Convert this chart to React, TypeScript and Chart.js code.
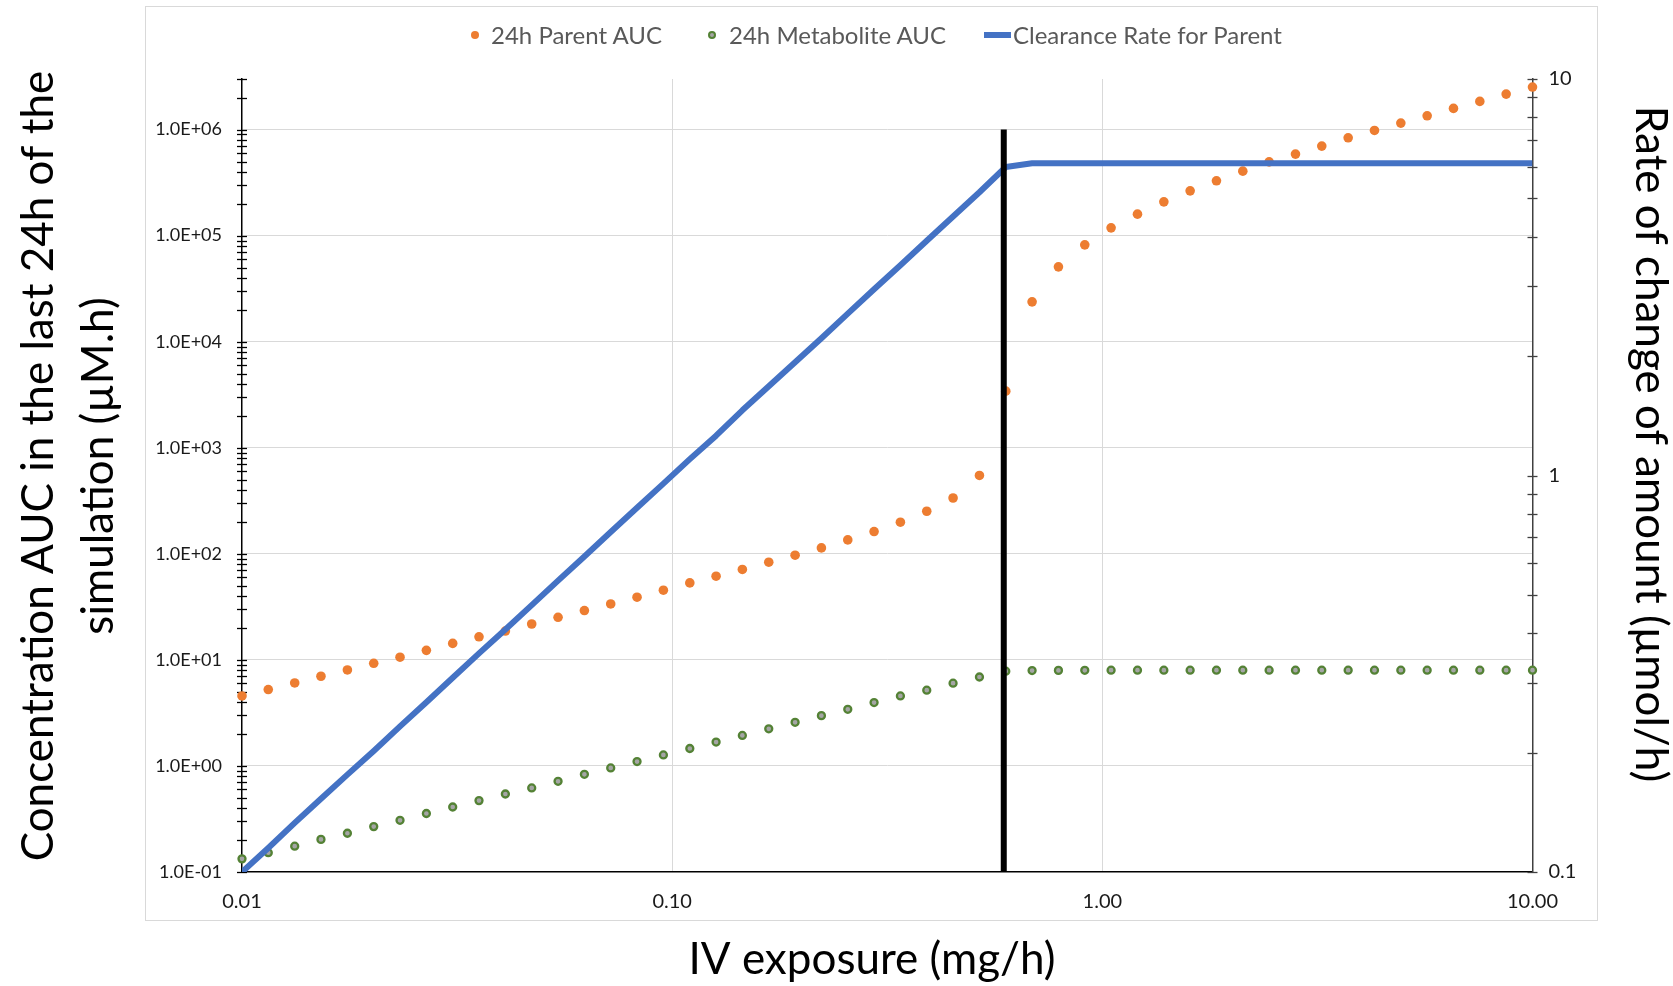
import React, { useEffect, useRef } from "react";
import { Chart, registerables } from "chart.js";

Chart.register(...registerables);

// ---------- data ----------
const doses = [
  0.01, 0.01151, 0.01326, 0.01526, 0.01758, 0.02024, 0.0233, 0.02683, 0.03089, 0.03556,
  0.04095, 0.04715, 0.05429, 0.06251, 0.07197, 0.08286, 0.09541, 0.1099, 0.1265, 0.1456,
  0.1677, 0.1931, 0.2223, 0.256, 0.2947, 0.3393, 0.3907, 0.4498, 0.518, 0.5964,
  0.6866, 0.7906, 0.9103, 1.048, 1.207, 1.39, 1.6, 1.842, 2.121, 2.442,
  2.812, 3.237, 3.728, 4.292, 4.942, 5.69, 6.551, 7.543, 8.685, 10,
];

const parentAUC = [
  4.57, 5.25, 6.06, 7.01, 8.04, 9.29, 10.6, 12.3, 14.3, 16.5,
  18.7, 21.8, 25.2, 29.2, 33.7, 39.0, 45.4, 53.2, 61.5, 71.2,
  83.4, 97.1, 113.7, 135.3, 162.3, 198.6, 252, 336, 548, 3420,
  23770, 50800, 81900, 118500, 159600, 208400, 264600, 328900, 405800, 496600,
  587400, 698900, 837200, 982000, 1151000, 1349000, 1585000, 1845000, 2162000, 2518000,
];

const metaboliteAUC = [
  0.133, 0.152, 0.175, 0.203, 0.232, 0.268, 0.307, 0.356, 0.41, 0.471,
  0.544, 0.62, 0.716, 0.834, 0.957, 1.1, 1.27, 1.46, 1.68, 1.94,
  2.24, 2.58, 2.98, 3.42, 3.96, 4.57, 5.18, 6.03, 6.9, 7.82,
  7.93, 7.96, 7.98, 7.99, 8.0, 8.0, 8.0, 8.0, 8.0, 8.0,
  8.0, 8.0, 8.0, 8.0, 8.0, 8.0, 8.0, 8.0, 8.0, 8.0,
];

const clearanceRate = [
  0.1, 0.115, 0.133, 0.153, 0.176, 0.202, 0.233, 0.268, 0.309, 0.356,
  0.409, 0.471, 0.543, 0.625, 0.72, 0.829, 0.954, 1.1, 1.26, 1.46,
  1.68, 1.93, 2.22, 2.56, 2.95, 3.39, 3.91, 4.5, 5.18, 6.0,
  6.13, 6.13, 6.13, 6.13, 6.13, 6.13, 6.13, 6.13, 6.13, 6.13,
  6.13, 6.13, 6.13, 6.13, 6.13, 6.13, 6.13, 6.13, 6.13, 6.13,
];

const thresholdDose = [0.59, 0.59];
const thresholdRange = [0.1, 1e6];

const seriesLabels = ["24h Parent AUC", "24h Metabolite AUC", "Clearance Rate for Parent"];
const xTitle = "IV exposure (mg/h)";
const yTitleLines = ["Concentration AUC in the last 24h of the", "simulation (µM.h)"];
const y1Title = "Rate of change of amount (µmol/h)";

const xTickValues = [0.01, 0.1, 1, 10];
const leftDecades = [0.1, 1, 10, 100, 1e3, 1e4, 1e5, 1e6];
const leftMax = 3e6;
const rightDecades = [0.1, 1];
const rightMax = 10;

// ---------- helpers ----------
const FONT = "Lato, 'Open Sans', sans-serif";
const COLORS = { parent: "#ED7D31", metaFill: "#A5A5A5", metaBorder: "#548235", clearance: "#4472C4" };

function minorTicks(decades: number[], max: number): number[] {
  const out: number[] = [];
  decades.forEach((d) => {
    for (let m = 1; m <= 9; m++) {
      const v = +(d * m).toPrecision(6);
      if (v <= max) out.push(v);
    }
  });
  if (!out.includes(max)) out.push(max);
  return out;
}
const isDecade = (v: number) => Math.abs(Math.log10(v) - Math.round(Math.log10(v))) < 1e-6;
const sci = (v: number) => {
  const e = Math.round(Math.log10(v));
  return `1.0E${e < 0 ? "-" : "+"}${String(Math.abs(e)).padStart(2, "0")}`;
};

const leftTickValues = minorTicks(leftDecades, leftMax);
const rightTickValues = minorTicks(rightDecades, rightMax);

const frameAndTicks = {
  id: "frameAndTicks",
  beforeDraw(chart: any) {
    const { ctx, width, height } = chart;
    ctx.save();
    ctx.fillStyle = "#ffffff";
    ctx.fillRect(0, 0, width, height);
    ctx.strokeStyle = "#d9d9d9";
    ctx.lineWidth = 1;
    ctx.strokeRect(145.5, 6.5, 1452, 914);
    ctx.restore();
  },
  beforeDatasetsDraw(chart: any) {
    const { ctx, chartArea } = chart;
    const draw = (scale: any, x: number, color: string) => {
      ctx.save();
      ctx.strokeStyle = color;
      ctx.lineWidth = 1.3;
      scale.ticks.forEach((t: any) => {
        const y = Math.round(scale.getPixelForValue(t.value)) + 0.5;
        ctx.beginPath();
        ctx.moveTo(x - 5, y);
        ctx.lineTo(x + 5, y);
        ctx.stroke();
      });
      ctx.restore();
    };
    draw(chart.scales.y, chartArea.left, "#000");
    draw(chart.scales.y1, chartArea.right, "#404040");
  },
  afterDraw(chart: any) {
    const { ctx } = chart;
    ctx.save();
    ctx.fillStyle = "#000";
    ctx.font = `44px ${FONT}`;
    ctx.textAlign = "center";
    ctx.textBaseline = "middle";
    ctx.fillText(xTitle, 872, 960);
    ctx.save();
    ctx.translate(39, 466);
    ctx.rotate(-Math.PI / 2);
    ctx.fillText(yTitleLines[0], 0, 0);
    ctx.fillText(yTitleLines[1], 0, 60);
    ctx.restore();
    ctx.save();
    ctx.translate(1650, 444);
    ctx.rotate(Math.PI / 2);
    ctx.fillText(y1Title, 0, 0);
    ctx.restore();
    ctx.restore();
  },
};

const tickColor = "#1a1a1a";

export default function App() {
  const canvasRef = useRef<HTMLCanvasElement>(null);

  useEffect(() => {
    if (!canvasRef.current) return;
    const chart = new Chart(canvasRef.current, {
      type: "scatter",
      data: {
        datasets: [
          {
            label: "threshold",
            data: thresholdDose.map((x, i) => ({ x, y: thresholdRange[i] })),
            yAxisID: "y",
            showLine: true,
            borderColor: "#000",
            borderWidth: 6,
            pointRadius: 0,
            order: 0,
            clip: 0,
          } as any,
          {
            label: seriesLabels[2],
            data: doses.map((x, i) => ({ x, y: clearanceRate[i] })),
            yAxisID: "y1",
            showLine: true,
            borderColor: COLORS.clearance,
            borderWidth: 6,
            borderJoinStyle: "round",
            pointRadius: 0,
            order: 1,
            clip: 0,
          } as any,
          {
            label: seriesLabels[1],
            data: doses.map((x, i) => ({ x, y: metaboliteAUC[i] })),
            yAxisID: "y",
            pointRadius: 3.5,
            pointBackgroundColor: COLORS.metaFill,
            pointBorderColor: COLORS.metaBorder,
            pointBorderWidth: 2.3,
            order: 2,
            clip: false,
          } as any,
          {
            label: seriesLabels[0],
            data: doses.map((x, i) => ({ x, y: parentAUC[i] })),
            yAxisID: "y",
            pointRadius: 4.8,
            pointBackgroundColor: COLORS.parent,
            pointBorderColor: COLORS.parent,
            pointBorderWidth: 0,
            order: 3,
            clip: false,
          } as any,
        ],
      },
      options: {
        animation: false,
        responsive: false,
        devicePixelRatio: 1,
        events: [],
        layout: { padding: { top: 79, left: 0, right: 0, bottom: 0 } },
        plugins: { legend: { display: false }, tooltip: { enabled: false }, title: { display: false } },
        scales: {
          x: {
            type: "logarithmic",
            position: "bottom",
            min: 0.01,
            max: 10,
            afterBuildTicks: (s: any) => {
              s.ticks = xTickValues.map((v) => ({ value: v }));
            },
            afterFit: (s: any) => {
              s.height = 114;
            },
            ticks: {
              autoSkip: false,
              maxRotation: 0,
              padding: 18,
              color: tickColor,
              font: { family: FONT, size: 20 },
              callback: (v: any) => Number(v).toFixed(2),
            },
            grid: {
              drawTicks: false,
              lineWidth: 1,
              color: (c: any) =>
                c.tick && (c.tick.value === 0.1 || c.tick.value === 1) ? "#d9d9d9" : "rgba(0,0,0,0)",
            },
            border: { color: "#000", width: 1.5 },
          },
          y: {
            type: "logarithmic",
            position: "left",
            min: 0.1,
            max: leftMax,
            afterBuildTicks: (s: any) => {
              s.ticks = leftTickValues.map((v) => ({ value: v }));
            },
            afterFit: (s: any) => {
              s.width = 242;
            },
            ticks: {
              autoSkip: false,
              padding: 20,
              color: tickColor,
              font: { family: FONT, size: 18 },
              callback: (v: any) => (isDecade(Number(v)) ? sci(Number(v)) : ""),
            },
            grid: {
              drawTicks: false,
              lineWidth: 1,
              color: (c: any) =>
                c.tick && isDecade(c.tick.value) && c.tick.value > 0.1 ? "#d9d9d9" : "rgba(0,0,0,0)",
            },
            border: { color: "#000", width: 1.5 },
          },
          y1: {
            type: "logarithmic",
            position: "right",
            min: 0.1,
            max: rightMax,
            afterBuildTicks: (s: any) => {
              s.ticks = rightTickValues.map((v) => ({ value: v }));
            },
            afterFit: (s: any) => {
              s.width = 140.5;
            },
            ticks: {
              autoSkip: false,
              padding: 16,
              color: tickColor,
              font: { family: FONT, size: 20 },
              callback: (v: any) => (isDecade(Number(v)) ? String(Number(v)) : ""),
            },
            grid: { drawOnChartArea: false, drawTicks: false },
            border: { color: "#404040", width: 1.5 },
          },
        },
      } as any,
      plugins: [frameAndTicks],
    });
    return () => chart.destroy();
  }, []);

  const legendText: React.CSSProperties = {
    font: `24px ${FONT}`,
    color: "#595959",
    whiteSpace: "nowrap",
    lineHeight: "30px",
  };
  const item = (left: number): React.CSSProperties => ({
    position: "absolute",
    left,
    top: 20,
    height: 30,
    display: "flex",
    alignItems: "center",
  });

  return (
    <div style={{ position: "absolute", left: 0, top: 0, width: 1673, height: 986, background: "#fff" }}>
      <canvas ref={canvasRef} width={1673} height={986} style={{ display: "block" }} />
      <div style={item(471)}>
        <span style={{ width: 8, height: 8, borderRadius: 4, background: COLORS.parent, marginRight: 12 }} />
        <span style={legendText}>{seriesLabels[0]}</span>
      </div>
      <div style={item(708)}>
        <span
          style={{
            width: 4,
            height: 4,
            borderRadius: 4,
            background: COLORS.metaFill,
            border: `2px solid ${COLORS.metaBorder}`,
            marginRight: 13,
          }}
        />
        <span style={legendText}>{seriesLabels[1]}</span>
      </div>
      <div style={item(984)}>
        <span style={{ width: 27, height: 6, background: COLORS.clearance, marginRight: 2 }} />
        <span style={legendText}>{seriesLabels[2]}</span>
      </div>
    </div>
  );
}
